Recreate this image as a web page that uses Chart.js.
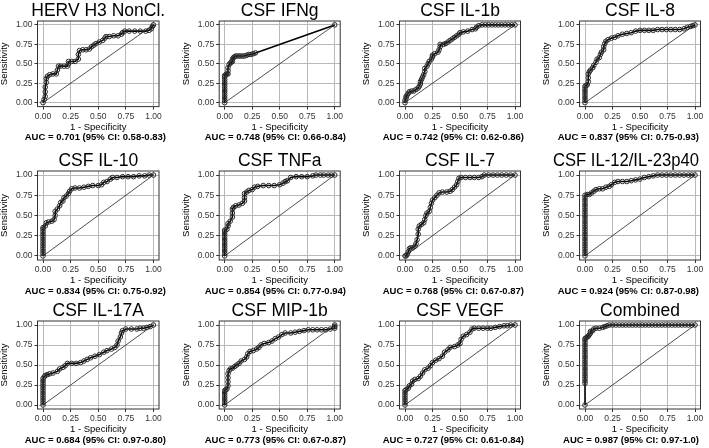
<!DOCTYPE html>
<html>
<head>
<meta charset="utf-8">
<script src="https://cdn.jsdelivr.net/npm/chart.js@4.4.0/dist/chart.umd.min.js"></script>
<style>
  body { margin: 0; background: #fff; }
  #wrap { position: relative; width: 709px; height: 448px; overflow: hidden; background: #fff; }
  #wrap canvas { position: absolute; }
</style>
</head>
<body>
<div id="wrap"></div>
<script>
const titles = ["HERV H3 NonCl.", "CSF IFNg", "CSF IL-1b", "CSF IL-8",
  "CSF IL-10", "CSF TNFa", "CSF IL-7", "CSF IL-12/IL-23p40",
  "CSF IL-17A", "CSF MIP-1b", "CSF VEGF", "Combined"];
const aucLabels = [
  "AUC = 0.701 (95% CI: 0.58-0.83)", "AUC = 0.748 (95% CI: 0.66-0.84)",
  "AUC = 0.742 (95% CI: 0.62-0.86)", "AUC = 0.837 (95% CI: 0.75-0.93)",
  "AUC = 0.834 (95% CI: 0.75-0.92)", "AUC = 0.854 (95% CI: 0.77-0.94)",
  "AUC = 0.768 (95% CI: 0.67-0.87)", "AUC = 0.924 (95% CI: 0.87-0.98)",
  "AUC = 0.684 (95% CI: 0.97-0.80)", "AUC = 0.773 (95% CI: 0.67-0.87)",
  "AUC = 0.727 (95% CI: 0.61-0.84)", "AUC = 0.987 (95% CI: 0.97-1.0)"];
const tickVals = [0, 0.25, 0.5, 0.75, 1];

// ROC points as [1 - specificity, sensitivity]
const hervH3 = [[0,0],[0.01,0.04],[0.02,0.08],[0.02,0.14],[0.02,0.20],[0.03,0.26],[0.03,0.31],[0.04,0.34],[0.06,0.36],[0.09,0.37],
  [0.12,0.37],[0.13,0.42],[0.14,0.47],[0.16,0.47],[0.19,0.47],[0.22,0.47],[0.23,0.50],[0.23,0.53],[0.26,0.53],[0.29,0.53],
  [0.32,0.56],[0.32,0.62],[0.33,0.67],[0.36,0.68],[0.39,0.68],[0.42,0.69],[0.44,0.72],[0.46,0.74],[0.48,0.76],[0.51,0.78],
  [0.54,0.80],[0.56,0.83],[0.57,0.85],[0.60,0.85],[0.64,0.86],[0.68,0.86],[0.71,0.88],[0.72,0.90],[0.74,0.92],[0.78,0.92],
  [0.83,0.92],[0.88,0.92],[0.93,0.92],[0.96,0.93],[0.98,0.95],[0.99,0.98],[1,1]];
const ifng = [[0,0],[0,0.03],[0,0.06],[0,0.09],[0,0.12],[0,0.15],[0,0.18],[0,0.21],[0,0.24],[0,0.27],[0,0.30],[0,0.33],[0,0.35],
  [0.01,0.36],[0.02,0.37],[0.03,0.37],[0.03,0.41],[0.03,0.45],[0.04,0.49],[0.05,0.51],[0.06,0.52],[0.07,0.53],[0.07,0.56],
  [0.08,0.58],[0.09,0.59],[0.10,0.60],[0.12,0.60],[0.14,0.60],[0.16,0.60],[0.18,0.60],[0.20,0.61],[0.22,0.62],[0.24,0.62],
  [0.26,0.63],[0.28,0.64],[1,1]];
const il1b = [[0,0],[0,0.03],[0.01,0.06],[0.01,0.08],[0.02,0.10],[0.03,0.12],[0.04,0.14],[0.06,0.15],[0.08,0.15],[0.10,0.17],
  [0.12,0.19],[0.13,0.21],[0.14,0.24],[0.14,0.27],[0.15,0.30],[0.16,0.33],[0.17,0.36],[0.18,0.40],[0.18,0.44],[0.20,0.47],
  [0.21,0.50],[0.22,0.53],[0.24,0.56],[0.25,0.59],[0.25,0.61],[0.27,0.63],[0.30,0.65],[0.31,0.68],[0.32,0.72],[0.32,0.75],
  [0.35,0.75],[0.37,0.76],[0.39,0.78],[0.41,0.80],[0.43,0.82],[0.45,0.84],[0.47,0.86],[0.49,0.88],[0.50,0.90],[0.53,0.91],
  [0.57,0.92],[0.61,0.94],[0.64,0.95],[0.65,0.97],[0.67,0.99],[0.70,1],[0.73,1],[0.76,1],[0.79,1],[0.82,1],[0.85,1],
  [0.88,1],[0.91,1],[0.94,1],[0.97,1],[1,1]];
const il8 = [[0,0],[0,0.03],[0,0.06],[0,0.09],[0,0.12],[0,0.15],[0,0.18],[0,0.21],[0.01,0.22],[0.02,0.23],[0.03,0.27],
  [0.03,0.32],[0.03,0.37],[0.04,0.40],[0.05,0.42],[0.07,0.45],[0.08,0.48],[0.10,0.52],[0.11,0.56],[0.13,0.58],[0.14,0.62],
  [0.15,0.65],[0.17,0.68],[0.17,0.72],[0.18,0.76],[0.19,0.79],[0.21,0.81],[0.24,0.83],[0.27,0.84],[0.30,0.86],[0.34,0.88],
  [0.38,0.89],[0.42,0.90],[0.46,0.92],[0.50,0.93],[0.54,0.93],[0.58,0.93],[0.62,0.93],[0.66,0.94],[0.70,0.94],[0.74,0.94],
  [0.78,0.94],[0.82,0.94],[0.86,0.94],[0.90,0.95],[0.93,0.97],[0.96,0.98],[0.98,0.99],[1,1]];
const il10 = [[0,0],[0,0.03],[0,0.06],[0,0.09],[0,0.12],[0,0.15],[0,0.18],[0,0.21],[0,0.24],[0,0.27],[0,0.30],[0,0.33],[0,0.35],
  [0.02,0.37],[0.03,0.41],[0.05,0.42],[0.08,0.43],[0.10,0.45],[0.11,0.50],[0.11,0.55],[0.13,0.58],[0.15,0.62],[0.16,0.66],
  [0.18,0.68],[0.19,0.72],[0.21,0.74],[0.23,0.77],[0.24,0.80],[0.26,0.83],[0.29,0.84],[0.33,0.84],[0.37,0.85],[0.41,0.86],
  [0.45,0.87],[0.50,0.87],[0.53,0.88],[0.55,0.91],[0.58,0.92],[0.61,0.95],[0.63,0.97],[0.67,0.97],[0.72,0.98],[0.77,0.98],
  [0.82,0.98],[0.87,0.99],[0.92,0.99],[0.96,1],[1,1]];
const tnfa = [[0,0],[0,0.03],[0,0.06],[0,0.09],[0,0.12],[0,0.15],[0,0.18],[0,0.21],[0,0.24],[0,0.27],[0,0.30],[0,0.32],
  [0.02,0.33],[0.03,0.37],[0.03,0.40],[0.05,0.43],[0.07,0.48],[0.07,0.53],[0.07,0.58],[0.08,0.60],[0.10,0.62],[0.13,0.63],
  [0.16,0.65],[0.18,0.68],[0.18,0.72],[0.18,0.77],[0.20,0.79],[0.22,0.81],[0.25,0.82],[0.27,0.85],[0.30,0.86],[0.35,0.87],
  [0.40,0.87],[0.45,0.87],[0.50,0.88],[0.53,0.90],[0.55,0.92],[0.57,0.93],[0.60,0.97],[0.65,0.98],[0.70,0.98],[0.75,0.98],
  [0.80,0.99],[0.83,1],[0.87,1],[0.90,1],[0.94,1],[0.97,1],[1,1]];
const il7 = [[0,0],[0.01,0],[0.02,0.02],[0.03,0.05],[0.04,0.09],[0.05,0.10],[0.07,0.10],[0.09,0.12],[0.10,0.15],[0.11,0.20],
  [0.12,0.27],[0.12,0.33],[0.13,0.37],[0.15,0.39],[0.17,0.41],[0.18,0.45],[0.19,0.50],[0.20,0.53],[0.22,0.55],[0.23,0.60],
  [0.24,0.65],[0.25,0.69],[0.27,0.72],[0.29,0.75],[0.31,0.78],[0.34,0.79],[0.38,0.79],[0.41,0.80],[0.43,0.82],[0.45,0.85],
  [0.47,0.88],[0.48,0.92],[0.49,0.96],[0.51,0.97],[0.55,0.97],[0.59,0.97],[0.63,0.97],[0.67,0.97],[0.70,0.98],[0.72,1],
  [0.76,1],[0.80,1],[0.84,1],[0.88,1],[0.92,1],[0.96,1],[1,1]];
const il12 = [[0,0],[0,0.03],[0,0.06],[0,0.09],[0,0.12],[0,0.15],[0,0.18],[0,0.21],[0,0.24],[0,0.27],[0,0.30],[0,0.33],
  [0,0.36],[0,0.39],[0,0.42],[0,0.45],[0,0.48],[0,0.51],[0,0.54],[0,0.57],[0,0.60],[0,0.63],[0,0.66],[0,0.69],[0,0.72],
  [0,0.75],[0.02,0.76],[0.04,0.76],[0.06,0.78],[0.08,0.80],[0.10,0.82],[0.13,0.83],[0.16,0.83],[0.19,0.85],[0.22,0.86],
  [0.24,0.88],[0.27,0.91],[0.30,0.92],[0.34,0.92],[0.38,0.92],[0.42,0.93],[0.46,0.94],[0.50,0.95],[0.54,0.97],[0.58,0.98],
  [0.62,0.99],[0.66,1],[0.70,1],[0.74,1],[0.78,1],[0.82,1],[0.86,1],[0.90,1],[0.94,1],[0.97,1],[1,1]];
const il17a = [[0,0],[0,0.03],[0,0.06],[0,0.09],[0,0.12],[0,0.15],[0,0.18],[0,0.21],[0,0.24],[0,0.27],[0,0.30],[0,0.33],
  [0.01,0.35],[0.02,0.37],[0.04,0.38],[0.06,0.39],[0.09,0.40],[0.13,0.42],[0.15,0.45],[0.18,0.47],[0.20,0.49],[0.22,0.52],
  [0.26,0.52],[0.30,0.52],[0.34,0.53],[0.37,0.55],[0.40,0.57],[0.43,0.59],[0.47,0.61],[0.51,0.63],[0.55,0.66],[0.58,0.68],
  [0.62,0.70],[0.65,0.72],[0.67,0.75],[0.68,0.80],[0.70,0.85],[0.71,0.90],[0.72,0.93],[0.75,0.95],[0.80,0.95],[0.85,0.95],
  [0.88,0.96],[0.91,0.96],[0.94,0.97],[0.97,0.98],[1,1]];
const mip1b = [[0,0],[0,0.03],[0,0.06],[0,0.09],[0,0.12],[0,0.15],[0,0.18],[0.01,0.19],[0.02,0.20],[0.03,0.24],[0.03,0.29],
  [0.03,0.34],[0.03,0.39],[0.04,0.43],[0.05,0.45],[0.07,0.46],[0.09,0.48],[0.11,0.50],[0.13,0.52],[0.15,0.55],[0.18,0.57],
  [0.20,0.60],[0.21,0.64],[0.23,0.67],[0.26,0.68],[0.29,0.70],[0.31,0.72],[0.33,0.75],[0.36,0.77],[0.40,0.78],[0.43,0.80],
  [0.46,0.83],[0.49,0.85],[0.52,0.88],[0.55,0.90],[0.60,0.90],[0.64,0.91],[0.68,0.92],[0.72,0.93],[0.76,0.94],[0.80,0.94],
  [0.84,0.94],[0.88,0.94],[0.92,0.94],[0.96,0.95],[1,0.96],[1,0.98],[1,1]];
const vegf = [[0,0],[0,0.03],[0,0.06],[0,0.09],[0,0.12],[0,0.15],[0,0.18],[0.01,0.19],[0.03,0.21],[0.04,0.24],[0.06,0.26],
  [0.07,0.30],[0.09,0.32],[0.12,0.33],[0.14,0.36],[0.16,0.40],[0.18,0.44],[0.21,0.46],[0.23,0.49],[0.25,0.53],[0.28,0.56],
  [0.31,0.58],[0.34,0.61],[0.36,0.66],[0.39,0.69],[0.41,0.72],[0.45,0.73],[0.48,0.75],[0.50,0.77],[0.51,0.82],[0.53,0.86],
  [0.56,0.88],[0.59,0.91],[0.61,0.95],[0.63,0.96],[0.67,0.96],[0.71,0.96],[0.75,0.96],[0.78,0.96],[0.82,0.97],[0.86,0.98],
  [0.90,0.99],[0.93,0.99],[0.96,1],[1,1]];
const combined = [[0,0],[0,0.27],[0,0.30],[0,0.33],[0,0.36],[0,0.39],[0,0.42],[0,0.45],[0,0.48],[0,0.51],[0,0.54],[0,0.57],
  [0,0.60],[0,0.63],[0,0.66],[0,0.69],[0,0.72],[0,0.75],[0,0.78],[0,0.81],[0,0.83],[0.01,0.84],[0.02,0.85],[0.03,0.86],
  [0.04,0.88],[0.05,0.90],[0.05,0.92],[0.07,0.93],[0.08,0.95],[0.10,0.96],[0.13,0.96],[0.16,0.97],[0.18,0.98],[0.20,0.99],
  [0.22,1],[0.25,1],[0.28,1],[0.31,1],[0.34,1],[0.37,1],[0.40,1],[0.43,1],[0.46,1],[0.49,1],[0.52,1],[0.55,1],[0.58,1],
  [0.61,1],[0.64,1],[0.67,1],[0.70,1],[0.73,1],[0.76,1],[0.79,1],[0.82,1],[0.85,1],[0.88,1],[0.91,1],[0.94,1],[0.97,1],[1,1]];

const curves = [hervH3, ifng, il1b, il8, il10, tnfa, il7, il12, il17a, mip1b, vegf, combined];

// grid geometry: canvas cells and plot-box edges, page pixels
const colCanvas = [[-3, 179], [176, 180], [356, 178], [534, 175]];
const boxLeft = [37.5, 219.2, 399.5, 579.5];
const boxRight = [159, 340.2, 520.5, 700.5];
const rowCanvas = [[0, 148], [148, 148], [296, 152]];
const boxTop = [21, 171, 321];
const boxBottom = [106.6, 260, 409];
const yAxisW = 39;
const xAxisH = 26.5;

Chart.defaults.font.family = '"Liberation Sans", Arial, sans-serif';

// title above and AUC line below, centred on the plot box
const panelText = {
  id: "panelText",
  afterDraw(chart, args, opts) {
    const { ctx, chartArea: a, width } = chart;
    const cx = (a.left + a.right) / 2;
    ctx.save();
    ctx.fillStyle = "#000";
    ctx.textAlign = "center";
    ctx.textBaseline = "middle";
    const put = (text, y, maxW) => {
      const w = Math.min(ctx.measureText(text).width, maxW);
      const x = Math.min(cx, width - 10 - w / 2);
      ctx.fillText(text, x, y, maxW);
    };
    ctx.font = '17.5px "Liberation Sans", Arial, sans-serif';
    put(opts.title, a.top - 9.5, 146);
    ctx.font = 'bold 9.5px "Liberation Sans", Arial, sans-serif';
    put(opts.auc, a.bottom + 31, 160);
    ctx.restore();
  }
};

const frame = {
  id: "frame",
  afterDraw(chart) {
    const { ctx, chartArea: a } = chart;
    ctx.save();
    ctx.strokeStyle = "#333";
    ctx.lineWidth = 1;
    ctx.strokeRect(a.left, a.top, a.right - a.left, a.bottom - a.top);
    ctx.restore();
  }
};

function axis(titleText) {
  return {
    type: "linear",
    min: -0.05,
    max: 1.05,
    afterBuildTicks: (ax) => { ax.ticks = tickVals.map((v) => ({ value: v })); },
    ticks: {
      color: "#333",
      font: { size: 8.5 },
      padding: 2,
      autoSkip: false,
      maxRotation: 0,
      callback: (v) => Number(v).toFixed(2)
    },
    grid: { color: "#b8b8b8", lineWidth: 1, tickColor: "#333", tickLength: 3 },
    border: { display: false },
    title: { display: true, text: titleText, color: "#000", font: { size: 9.5 }, padding: 0 }
  };
}

const wrap = document.getElementById("wrap");
curves.forEach((pts, i) => {
  const col = i % 4;
  const row = Math.floor(i / 4);
  const [cl, cw] = colCanvas[col];
  const [ct, ch] = rowCanvas[row];
  const canvas = document.createElement("canvas");
  canvas.width = cw;
  canvas.height = ch;
  canvas.style.left = cl + "px";
  canvas.style.top = ct + "px";
  wrap.appendChild(canvas);

  const xScale = axis("1 - Specificity");
  xScale.afterFit = (s) => { s.height = xAxisH; };
  const yScale = axis("Sensitivity");
  yScale.afterFit = (s) => { s.width = yAxisW; };

  new Chart(canvas, {
    type: "scatter",
    data: {
      datasets: [
        {
          data: [{ x: 0, y: 0 }, { x: 1, y: 1 }],
          showLine: true,
          borderColor: "#222",
          borderWidth: 0.8,
          pointRadius: 0
        },
        {
          data: pts.map((p) => ({ x: p[0], y: p[1] })),
          showLine: true,
          borderColor: "#000",
          borderWidth: 1.6,
          pointRadius: 2.3,
          pointBorderWidth: 1,
          pointBorderColor: "#2a2a2a",
          pointBackgroundColor: "rgba(0,0,0,0)"
        }
      ]
    },
    options: {
      responsive: false,
      animation: false,
      devicePixelRatio: 1,
      layout: {
        padding: {
          left: boxLeft[col] - yAxisW - cl,
          right: cl + cw - boxRight[col],
          top: boxTop[row] - ct,
          bottom: ct + ch - boxBottom[row] - xAxisH
        }
      },
      scales: { x: xScale, y: yScale },
      plugins: {
        legend: { display: false },
        tooltip: { enabled: false },
        panelText: { title: titles[i], auc: aucLabels[i] }
      }
    },
    plugins: [panelText, frame]
  });
});
</script>
</body>
</html>
